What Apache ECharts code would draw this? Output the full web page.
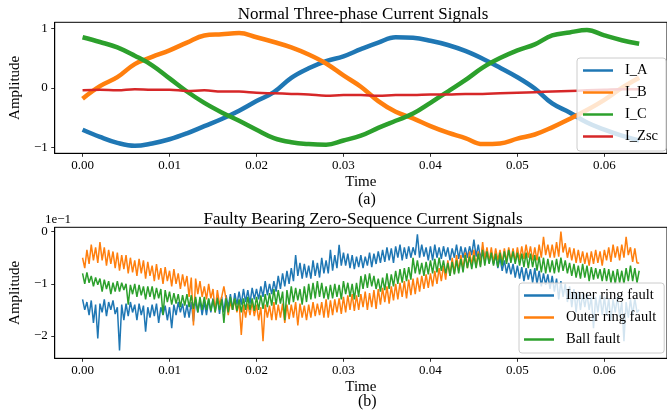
<!DOCTYPE html>
<html>
<head>
<meta charset="utf-8">
<script src="https://cdn.jsdelivr.net/npm/echarts@6/dist/echarts.min.js"></script>
<style>html,body{margin:0;padding:0;background:#fff}#c{width:667px;height:420px}</style>
</head>
<body>
<div id="c"></div>
<script>
// ---------- Top panel: normal three-phase currents (sampled every 0.002 s) ----------
const tTop = [0,0.002,0.004,0.006,0.008,0.010,0.012,0.014,0.016,0.018,0.020,0.022,0.024,0.026,0.028,0.030,0.032,0.034,0.036,0.038,0.040,0.042,0.044,0.046,0.048,0.050,0.052,0.054,0.056,0.058,0.060,0.062,0.064];
const I_A = [-0.70,-0.82,-0.92,-0.97,-0.93,-0.86,-0.76,-0.64,-0.52,-0.38,-0.22,-0.07,0.17,0.33,0.45,0.53,0.65,0.76,0.85,0.84,0.79,0.72,0.62,0.49,0.34,0.18,-0.01,-0.26,-0.41,-0.58,-0.70,-0.80,-0.88];
const I_B = [-0.18,0.03,0.18,0.40,0.52,0.63,0.76,0.88,0.90,0.92,0.85,0.77,0.68,0.56,0.41,0.21,0.02,-0.22,-0.40,-0.51,-0.64,-0.75,-0.84,-0.94,-0.93,-0.85,-0.78,-0.66,-0.52,-0.37,-0.20,0.00,0.17];
const I_C = [0.85,0.77,0.68,0.54,0.38,0.16,-0.06,-0.25,-0.41,-0.55,-0.70,-0.84,-0.91,-0.94,-0.95,-0.88,-0.80,-0.67,-0.55,-0.43,-0.25,-0.06,0.13,0.34,0.50,0.63,0.73,0.88,0.93,0.97,0.88,0.80,0.74];
const I_Zsc = [-0.04,-0.03,-0.04,-0.02,-0.03,-0.03,-0.05,-0.04,-0.06,-0.06,-0.08,-0.09,-0.10,-0.11,-0.13,-0.12,-0.12,-0.13,-0.12,-0.12,-0.11,-0.11,-0.10,-0.10,-0.09,-0.08,-0.07,-0.06,-0.05,-0.04,-0.03,-0.02,-0.02];
const topNames = ['I_A','I_B','I_C','I_Zsc'];

// ---------- Bottom panel: zero-sequence currents, in units of 1e-1 (sampled every 0.00025 s) ----------
const dtBottom = 0.00025;
const innerRing = [
-1.30,-1.50,-1.35,-1.60,-1.32,-1.75,-1.40,-2.05, -1.38,-1.55,-1.30,-1.62,-1.35,-1.50,-1.32,-1.58,
-1.45,-2.28,-1.40,-1.70,-1.38,-1.62,-1.35,-1.55, -1.40,-1.70,-1.38,-1.60,-1.42,-1.92,-1.45,-1.65,
-1.40,-1.62,-1.38,-1.75,-1.45,-1.60,-1.42,-1.70, -1.45,-1.85,-1.40,-1.60,-1.35,-1.55,-1.38,-1.65,
-1.40,-1.65,-1.35,-1.72,-1.30,-1.55,-1.32,-1.60, -1.35,-1.60,-1.30,-1.55,-1.28,-1.50,-1.25,-1.58,
-1.25,-1.55,-1.22,-1.45,-1.20,-1.50,-1.18,-1.40, -1.15,-1.40,-1.10,-1.35,-1.12,-1.38,-1.08,-1.30,
-1.10,-1.30,-1.05,-1.25,-0.95,-1.22,-1.00,-1.20, -0.95,-1.15,-0.85,-1.10,-0.80,-1.05,-0.75,-1.00,
-0.70,-0.95,-0.45,-0.85,-0.60,-0.90,-0.62,-0.88, -0.65,-0.90,-0.55,-0.85,-0.60,-0.88,-0.50,-0.80,
-0.55,-0.80,-0.35,-0.75,-0.45,-0.70,-0.25,-0.65, -0.40,-0.65,-0.42,-0.70,-0.45,-0.72,-0.48,-0.68,
-0.45,-0.70,-0.48,-0.65,-0.40,-0.68,-0.42,-0.62, -0.38,-0.60,-0.35,-0.58,-0.30,-0.55,-0.32,-0.60,
-0.28,-0.50,-0.25,-0.55,-0.30,-0.52,-0.28,-0.50, -0.30,-0.45,-0.05,-0.50,-0.25,-0.48,-0.30,-0.55,
-0.28,-0.55,-0.25,-0.50,-0.30,-0.52,-0.28,-0.48, -0.30,-0.55,-0.32,-0.50,-0.25,-0.52,-0.28,-0.50,
-0.30,-0.50,-0.28,-0.45,-0.15,-0.48,-0.25,-0.52, -0.30,-0.50,-0.35,-0.60,-0.40,-0.62,-0.45,-0.70,
-0.50,-0.75,-0.55,-0.80,-0.60,-0.82,-0.62,-0.88, -0.65,-0.90,-0.68,-0.95,-0.70,-0.92,-0.72,-0.98,
-0.70,-1.00,-0.75,-1.05,-0.80,-1.02,-0.82,-1.10, -0.85,-1.15,-0.90,-1.30,-0.95,-1.25,-1.00,-1.35,
-1.05,-1.45,-1.10,-1.55,-1.15,-1.50,-1.20,-1.45, -1.20,-1.50,-1.25,-1.85,-1.25,-1.55,-1.22,-1.60,
-1.25,-1.60,-1.28,-1.70,-1.30,-1.55,-1.25,-1.62, -1.35,-2.10,-1.35,-1.65,-1.30,-1.60,-1.28,-1.55,
-1.50];
const outerRing = [
-0.50,-0.70,-0.35,-0.62,-0.25,-0.55,-0.30,-0.60, -0.20,-0.55,-0.30,-0.65,-0.35,-0.62,-0.38,-0.70,
-0.40,-0.75,-0.45,-0.72,-0.45,-0.80,-0.50,-0.78, -0.55,-0.85,-0.52,-0.80,-0.55,-0.90,-0.58,-0.85,
-0.65,-0.95,-0.62,-0.92,-0.70,-1.00,-0.68,-0.95, -0.75,-1.05,-0.72,-1.00,-0.80,-1.10,-0.82,-1.05,
-0.85,-1.25,-0.88,-1.80,-0.90,-1.20,-0.95,-1.25, -1.05,-1.30,-1.00,-1.28,-1.10,-1.55,-1.12,-1.40,
-1.25,-1.05,-1.30,-1.60,-1.35,-1.50,-1.30,-1.55, -1.35,-1.98,-1.40,-1.65,-1.38,-1.60,-1.35,-1.62,
-1.40,-1.70,-1.45,-2.10,-1.40,-1.65,-1.42,-1.70, -1.35,-1.70,-1.40,-1.65,-1.38,-1.75,-1.40,-1.68,
-1.40,-1.65,-1.35,-1.80,-1.38,-1.65,-1.42,-1.70, -1.40,-1.65,-1.35,-1.62,-1.38,-1.60,-1.35,-1.65,
-1.30,-1.65,-1.32,-1.60,-1.30,-1.55,-1.28,-1.58, -1.25,-1.55,-1.22,-1.50,-1.20,-1.52,-1.22,-1.50,
-1.20,-1.45,-1.15,-1.50,-1.18,-1.45,-1.12,-1.48, -1.10,-1.40,-1.08,-1.35,-1.05,-1.38,-1.05,-1.32,
-1.00,-1.30,-0.98,-1.25,-0.95,-1.28,-0.92,-1.22, -0.90,-1.20,-0.88,-1.15,-0.85,-1.10,-0.82,-1.08,
-0.80,-1.05,-0.75,-1.00,-0.70,-0.95,-0.65,-0.92, -0.55,-0.85,-0.50,-0.80,-0.45,-0.75,-0.45,-0.72,
-0.40,-0.70,-0.38,-0.65,-0.35,-0.68,-0.38,-0.65, -0.20,-0.55,-0.30,-0.58,-0.30,-0.60,-0.32,-0.55,
-0.35,-0.60,-0.32,-0.58,-0.30,-0.55,-0.32,-0.58, -0.30,-0.55,-0.28,-0.52,-0.25,-0.50,-0.28,-0.55,
-0.30,-0.55,-0.25,-0.50,-0.10,-0.45,-0.25,-0.50, -0.25,-0.50,-0.20,-0.48,0.00,-0.40,-0.22,-0.50,
-0.30,-0.55,-0.32,-0.60,-0.35,-0.60,-0.38,-0.62, -0.40,-0.65,-0.38,-0.62,-0.35,-0.60,-0.38,-0.65,
-0.35,-0.55,-0.30,-0.58,-0.25,-0.50,-0.28,-0.55, -0.25,-0.50,-0.10,-0.45,-0.30,-0.58,-0.32,-0.60,
-0.60];
const ballFault = [
-0.80,-1.00,-0.78,-0.98,-0.85,-1.05,-0.88,-1.02, -0.90,-1.15,-0.92,-1.10,-0.95,-1.20,-0.98,-1.15,
-0.95,-1.15,-0.98,-1.12,-1.00,-1.40,-1.02,-1.20, -1.00,-1.25,-1.02,-1.22,-1.05,-1.30,-1.05,-1.25,
-1.05,-1.30,-1.08,-1.28,-1.10,-1.60,-1.12,-1.35, -1.15,-1.40,-1.18,-1.38,-1.20,-1.45,-1.22,-1.42,
-1.20,-1.45,-1.22,-1.48,-1.25,-1.55,-1.25,-1.50, -1.25,-1.50,-1.28,-1.52,-1.30,-1.55,-1.28,-1.50,
-1.30,-1.75,-1.28,-1.55,-1.25,-1.50,-1.28,-1.52, -1.30,-1.55,-1.28,-1.50,-1.25,-1.50,-1.28,-1.52,
-1.25,-1.50,-1.22,-1.48,-1.20,-1.45,-1.18,-1.42, -1.10,-1.40,-1.12,-1.38,-1.15,-1.70,-1.12,-1.40,
-1.05,-1.35,-1.08,-1.32,-1.10,-1.40,-1.05,-1.35, -1.00,-1.30,-0.98,-1.28,-0.95,-1.25,-0.98,-1.28,
-1.05,-1.30,-1.02,-1.28,-1.00,-1.25,-1.02,-1.30, -0.95,-1.20,-0.98,-1.25,-1.00,-1.30,-0.98,-1.25,
-0.85,-1.10,-0.82,-1.08,-0.80,-1.05,-0.85,-1.10, -0.90,-1.15,-0.88,-1.12,-0.80,-1.10,-0.82,-1.05,
-0.75,-1.00,-0.72,-0.98,-0.70,-0.95,-0.68,-0.92, -0.50,-0.80,-0.55,-0.82,-0.60,-0.85,-0.58,-0.82,
-0.55,-0.80,-0.52,-0.78,-0.50,-0.75,-0.55,-0.80, -0.60,-0.85,-0.58,-0.82,-0.55,-0.80,-0.52,-0.78,
-0.45,-0.70,-0.48,-0.72,-0.45,-0.70,-0.42,-0.68, -0.35,-0.65,-0.38,-0.62,-0.40,-0.65,-0.42,-0.68,
-0.40,-0.65,-0.38,-0.62,-0.35,-0.60,-0.38,-0.62, -0.40,-0.65,-0.42,-0.68,-0.40,-0.70,-0.42,-0.68,
-0.45,-0.75,-0.48,-0.78,-0.50,-0.80,-0.52,-0.78, -0.55,-0.80,-0.52,-0.78,-0.50,-0.75,-0.55,-0.80,
-0.60,-0.85,-0.62,-0.88,-0.65,-0.90,-0.62,-0.88, -0.65,-0.95,-0.68,-0.92,-0.70,-0.90,-0.72,-0.95,
-0.70,-0.95,-0.72,-0.98,-0.75,-1.00,-0.72,-0.98, -0.75,-1.00,-0.70,-0.95,-0.65,-0.95,-0.70,-0.98,
-0.75];
const bottomNames = ['Inner ring fault','Outer ring fault','Ball fault'];

// ---------- Axis ticks / labels ----------
const xTicks = [0,0.01,0.02,0.03,0.04,0.05,0.06];
const yTicksTop = [-1,0,1];
const yTicksBottom = [-2,-1,0];

const colors = ['#1f77b4','#ff7f0e','#2ca02c','#d62728'];
const FONT = '"Liberation Serif","DejaVu Serif",serif';

const pair = (t, v) => v.map((y, i) => [t[i], y]);
const tBottom = innerRing.map((_, i) => +(i * dtBottom).toFixed(5));
const fmtY = v => v < 0 ? '\u2212' + Math.abs(v) : String(v);

function xAxisCfg(gi) {
  return {
    type: 'value', gridIndex: gi, min: -0.0032, max: 0.0672,
    name: 'Time', nameLocation: 'middle', nameGap: 21,
    nameTextStyle: {fontFamily: FONT, fontSize: 15, color: '#000'},
    axisLine: {show: true, onZero: false, lineStyle: {color: '#000', width: 1}},
    axisTick: {show: true, length: 3.5, lineStyle: {color: '#000', width: 0.8}, customValues: xTicks},
    axisLabel: {fontFamily: FONT, fontSize: 13, color: '#000', margin: 6, customValues: xTicks, formatter: v => v.toFixed(2)},
    splitLine: {show: false}
  };
}
function yAxisCfg(gi, min, max, ticks) {
  return {
    type: 'value', gridIndex: gi, min: min, max: max,
    name: 'Amplitude', nameLocation: 'middle', nameGap: 27, nameRotate: 90,
    nameTextStyle: {fontFamily: FONT, fontSize: 15, color: '#000'},
    axisLine: {show: true, onZero: false, lineStyle: {color: '#000', width: 1}},
    axisTick: {show: true, length: 3.5, lineStyle: {color: '#000', width: 0.8}, customValues: ticks},
    axisLabel: {fontFamily: FONT, fontSize: 13, color: '#000', margin: 7, customValues: ticks, formatter: fmtY},
    splitLine: {show: false}
  };
}

const topData = [I_A, I_B, I_C, I_Zsc];
const bottomData = [innerRing, outerRing, ballFault];

const series = [];
topData.forEach((d, i) => series.push({
  name: topNames[i], type: 'line', xAxisIndex: 0, yAxisIndex: 0,
  data: pair(tTop, d), smooth: 0.4, showSymbol: false,
  lineStyle: {color: colors[i], width: i === 3 ? 2.5 : 4.5}, itemStyle: {color: colors[i]}
}));
bottomData.forEach((d, i) => series.push({
  name: bottomNames[i], type: 'line', xAxisIndex: 1, yAxisIndex: 1,
  data: pair(tBottom, d), showSymbol: false,
  lineStyle: {color: colors[i], width: 1.5}, itemStyle: {color: colors[i]}
}));

const legendCommon = {
  orient: 'vertical', icon: 'rect', itemWidth: 30, itemHeight: 2.5,
  backgroundColor: 'rgba(255,255,255,0.8)', borderColor: '#cccccc', borderWidth: 1, borderRadius: 3,
  textStyle: {fontFamily: FONT, fontSize: 14.5, color: '#000', padding: [0, 0, 0, 7], lineHeight: 14},
  itemGap: 7
};

const chart = echarts.init(document.getElementById('c'), null, {renderer: 'canvas'});
chart.setOption({
  animation: false,
  backgroundColor: '#fff',
  title: [
    {text: 'Normal Three-phase Current Signals', left: 358, top: 1, textAlign: 'center',
     textStyle: {fontFamily: FONT, fontSize: 17, fontWeight: 'normal', color: '#000'}},
    {text: 'Faulty Bearing Zero-Sequence Current Signals', left: 358, top: 206, textAlign: 'center',
     textStyle: {fontFamily: FONT, fontSize: 17, fontWeight: 'normal', color: '#000'}}
  ],
  grid: [
    {left: 45.7, top: 22.3, width: 624.7, height: 131, show: true, borderColor: '#000', borderWidth: 1, backgroundColor: 'transparent'},
    {left: 45.7, top: 227.3, width: 624.7, height: 131, show: true, borderColor: '#000', borderWidth: 1, backgroundColor: 'transparent'}
  ],
  xAxis: [xAxisCfg(0), xAxisCfg(1)],
  yAxis: [yAxisCfg(0, -1.095, 1.10, yTicksTop), yAxisCfg(1, -2.43, 0.084, yTicksBottom)],
  legend: [
    Object.assign({}, legendCommon, {data: topNames, left: 577, top: 58, padding: [5, 8, 7, 6]}),
    Object.assign({}, legendCommon, {data: bottomNames, left: 519, top: 283, padding: [5, 8, 6, 5]})
  ],
  graphic: [
    {type: 'text', left: 358, top: 192, style: {text: '(a)', font: '16px ' + FONT, fill: '#000', textAlign: 'center'}},
    {type: 'text', left: 358, top: 394, style: {text: '(b)', font: '16px ' + FONT, fill: '#000', textAlign: 'center'}},
    {type: 'text', left: 45, top: 213, style: {text: '1e\u22121', font: '13px ' + FONT, fill: '#000'}}
  ],
  series: series
});
</script>
</body>
</html>
